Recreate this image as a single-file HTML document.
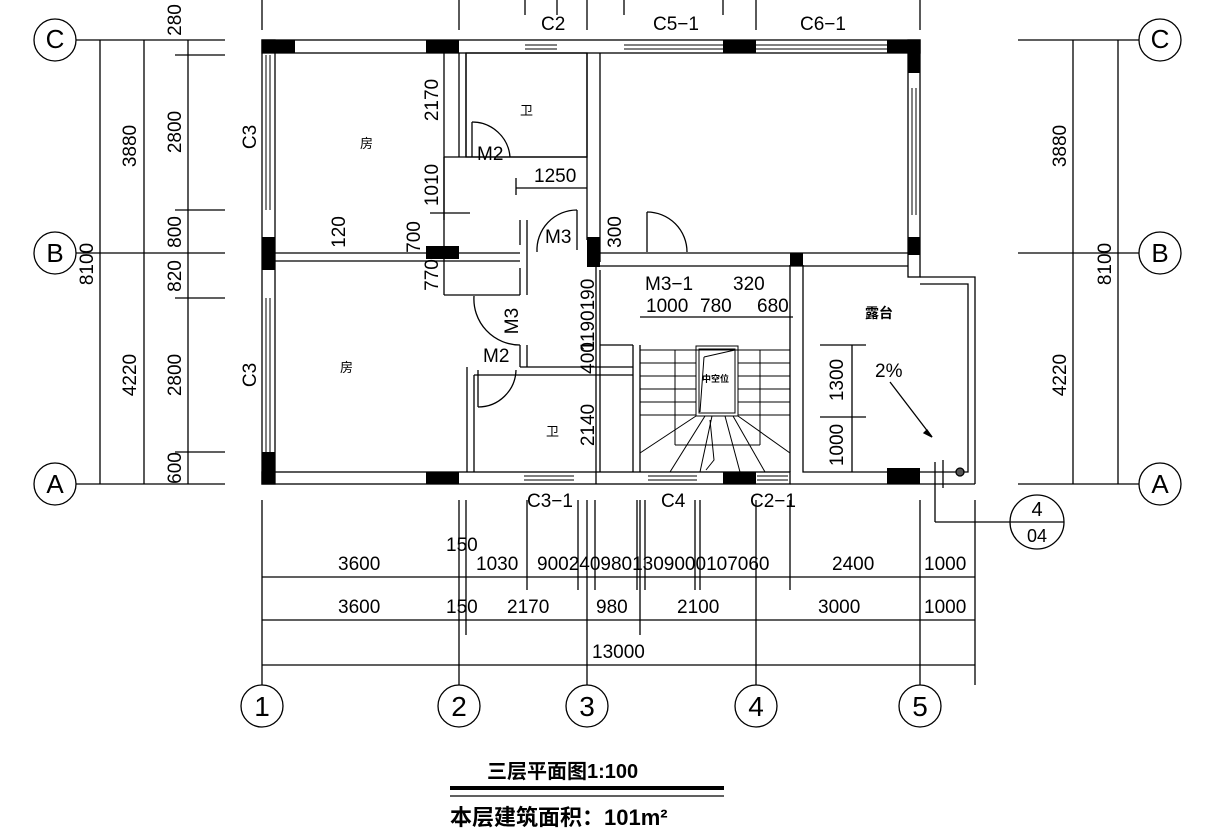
<!DOCTYPE html>
<html><head><meta charset="utf-8"><style>
html,body{margin:0;padding:0;background:#fff;}
svg{display:block;}
text{font-family:"Liberation Sans","Noto Sans CJK SC",sans-serif;fill:#000;}
</style></head><body>
<svg width="1210" height="835" viewBox="0 0 1210 835" xmlns="http://www.w3.org/2000/svg">
<g stroke="#000" stroke-width="1.3" fill="none">
<circle cx="55" cy="40" r="21"/><circle cx="55" cy="253" r="21"/><circle cx="55" cy="484" r="21"/>
<circle cx="1160" cy="40" r="21"/><circle cx="1160" cy="253" r="21"/><circle cx="1160" cy="484" r="21"/>
<line x1="76" y1="40" x2="225" y2="40"/><line x1="76" y1="253" x2="225" y2="253"/><line x1="76" y1="484" x2="225" y2="484"/>
<line x1="1018" y1="40" x2="1139" y2="40"/><line x1="1018" y1="253" x2="1139" y2="253"/><line x1="1018" y1="484" x2="1139" y2="484"/>
<line x1="100" y1="40" x2="100" y2="484"/><line x1="144" y1="40" x2="144" y2="484"/><line x1="188" y1="40" x2="188" y2="484"/>
<line x1="175" y1="55" x2="225" y2="55"/><line x1="175" y1="210" x2="225" y2="210"/><line x1="175" y1="298" x2="225" y2="298"/><line x1="175" y1="452" x2="225" y2="452"/>
<line x1="1073" y1="40" x2="1073" y2="484"/><line x1="1118" y1="40" x2="1118" y2="484"/>
<line x1="262" y1="577" x2="975" y2="577"/><line x1="262" y1="620" x2="975" y2="620"/><line x1="262" y1="665" x2="975" y2="665"/>
<line x1="262" y1="500" x2="262" y2="685"/><line x1="459" y1="500" x2="459" y2="685"/><line x1="466" y1="500" x2="466" y2="635"/>
<line x1="587" y1="500" x2="587" y2="685"/><line x1="640" y1="500" x2="640" y2="635"/><line x1="756" y1="500" x2="756" y2="685"/><line x1="920" y1="500" x2="920" y2="685"/><line x1="975" y1="500" x2="975" y2="685"/>
<line x1="527" y1="500" x2="527" y2="590"/><line x1="578" y1="500" x2="578" y2="590"/><line x1="595" y1="500" x2="595" y2="590"/><line x1="637" y1="500" x2="637" y2="590"/><line x1="645" y1="500" x2="645" y2="590"/><line x1="695" y1="500" x2="695" y2="590"/><line x1="700" y1="500" x2="700" y2="590"/><line x1="790" y1="500" x2="790" y2="590"/>
<circle cx="262" cy="706" r="21"/><circle cx="459" cy="706" r="21"/><circle cx="587" cy="706" r="21"/><circle cx="756" cy="706" r="21"/><circle cx="920" cy="706" r="21"/>
<line x1="262" y1="0" x2="262" y2="30"/><line x1="459" y1="0" x2="459" y2="30"/><line x1="525" y1="0" x2="525" y2="15"/><line x1="557" y1="0" x2="557" y2="15"/><line x1="587" y1="0" x2="587" y2="30"/><line x1="624" y1="0" x2="624" y2="15"/><line x1="723" y1="0" x2="723" y2="15"/><line x1="756" y1="0" x2="756" y2="30"/><line x1="920" y1="0" x2="920" y2="30"/>
<rect x="262" y="40" width="658" height="13"/>
<rect x="262" y="40" width="13" height="444"/>
<rect x="262" y="472" width="528" height="12"/>
<line x1="790" y1="484" x2="975" y2="484"/>
<rect x="908" y="40" width="12" height="237"/>
<polyline points="920,277 975,277 975,484"/><polyline points="920,284 968,284 968,472 803,472 803,265"/>
<line x1="790" y1="265" x2="790" y2="472"/>
<line x1="275" y1="253" x2="520" y2="253"/><line x1="275" y1="261" x2="520" y2="261"/>
<line x1="459" y1="53" x2="459" y2="157"/><line x1="466" y1="53" x2="466" y2="157"/>
<rect x="466" y="53" width="121" height="104"/>
<line x1="587" y1="53" x2="587" y2="240"/><line x1="600" y1="53" x2="600" y2="262"/>
<line x1="444" y1="157" x2="587" y2="157"/>
<line x1="444" y1="157" x2="444" y2="220"/>
<line x1="444" y1="295" x2="520" y2="295"/>
<line x1="520" y1="220" x2="520" y2="245"/><line x1="527" y1="220" x2="527" y2="295"/>
<line x1="520" y1="268" x2="520" y2="295"/>
<line x1="600" y1="253" x2="908" y2="253"/><line x1="600" y1="266" x2="908" y2="266"/>
<line x1="520" y1="367" x2="633" y2="367"/><line x1="520" y1="345" x2="520" y2="367"/><line x1="527" y1="345" x2="527" y2="367"/>
<line x1="467" y1="367" x2="467" y2="472"/><line x1="474" y1="375" x2="474" y2="472"/><line x1="474" y1="375" x2="633" y2="375"/>
<line x1="633" y1="345" x2="633" y2="472"/><line x1="640" y1="345" x2="640" y2="472"/>
<line x1="600" y1="345" x2="633" y2="345"/>
<line x1="596" y1="240" x2="596" y2="484"/>
<g stroke-width="1">
<line x1="266" y1="55" x2="266" y2="210"/><line x1="270" y1="55" x2="270" y2="210"/>
<line x1="266" y1="298" x2="266" y2="452"/><line x1="270" y1="298" x2="270" y2="452"/>
<line x1="525" y1="45" x2="557" y2="45"/><line x1="525" y1="49" x2="557" y2="49"/>
<line x1="624" y1="45" x2="723" y2="45"/><line x1="624" y1="49" x2="723" y2="49"/>
<line x1="756" y1="45" x2="887" y2="45"/><line x1="756" y1="49" x2="887" y2="49"/>
<line x1="912" y1="88" x2="912" y2="215"/><line x1="916" y1="88" x2="916" y2="215"/>
<line x1="524" y1="476" x2="574" y2="476"/><line x1="524" y1="480" x2="574" y2="480"/>
<line x1="648" y1="476" x2="697" y2="476"/><line x1="648" y1="480" x2="697" y2="480"/>
<line x1="757" y1="476" x2="788" y2="476"/><line x1="757" y1="480" x2="788" y2="480"/>
</g>
<path d="M472 122 A38 38 0 0 1 510 157"/><line x1="472" y1="122" x2="472" y2="157"/>
<path d="M577 210 A40 40 0 0 0 537 252"/><line x1="577" y1="210" x2="577" y2="250"/>
<path d="M647 212 A40 40 0 0 1 687 252"/><line x1="647" y1="212" x2="647" y2="252"/>
<path d="M474 296 A46 46 0 0 0 520 345"/>
<path d="M478 407 A38 38 0 0 0 516 370"/><line x1="478" y1="370" x2="478" y2="407"/>
<g stroke-width="1">
<line x1="640" y1="350" x2="790" y2="350"/>
<line x1="640" y1="363" x2="696" y2="363"/><line x1="640" y1="376" x2="696" y2="376"/><line x1="640" y1="389" x2="696" y2="389"/><line x1="640" y1="402" x2="696" y2="402"/><line x1="640" y1="415" x2="696" y2="415"/>
<line x1="738" y1="363" x2="790" y2="363"/><line x1="738" y1="376" x2="790" y2="376"/><line x1="738" y1="389" x2="790" y2="389"/><line x1="738" y1="402" x2="790" y2="402"/><line x1="738" y1="415" x2="790" y2="415"/>
<line x1="675" y1="350" x2="675" y2="445"/><line x1="760" y1="350" x2="760" y2="445"/><line x1="675" y1="445" x2="760" y2="445"/>
<rect x="696" y="346" width="42" height="70"/><rect x="699" y="349" width="36" height="64"/>
<path d="M704 357 L735 350 M704 357 L700 412"/>
<line x1="696" y1="416" x2="640" y2="453"/><line x1="705" y1="416" x2="670" y2="472"/><line x1="712" y1="416" x2="700" y2="472"/>
<line x1="738" y1="416" x2="790" y2="453"/><line x1="733" y1="416" x2="765" y2="472"/><line x1="725" y1="416" x2="740" y2="472"/>
<path d="M710 420 L714 460 L706 470"/>
</g>
<line x1="890" y1="382" x2="932" y2="437"/><path d="M932 437 l-8 -4 l3 -3 z" fill="#000"/>
<line x1="820" y1="345" x2="866" y2="345"/><line x1="820" y1="417" x2="866" y2="417"/><line x1="852" y1="345" x2="852" y2="472"/>
<line x1="935" y1="462" x2="935" y2="522"/><line x1="943" y1="460" x2="943" y2="488"/><line x1="935" y1="522" x2="1010" y2="522"/>
<circle cx="1037" cy="522" r="27"/><line x1="1010" y1="522" x2="1064" y2="522"/>
<circle cx="960" cy="472" r="4" fill="#555"/>
<line x1="444" y1="53" x2="444" y2="295"/>
<line x1="516" y1="188" x2="587" y2="188"/><line x1="516" y1="178" x2="516" y2="195"/>
<line x1="600" y1="270" x2="600" y2="472"/>
<line x1="640" y1="317" x2="793" y2="317"/>
<line x1="430" y1="213" x2="470" y2="213"/>
<line x1="450" y1="788" x2="724" y2="788" stroke-width="4"/><line x1="450" y1="796" x2="724" y2="796" stroke-width="1.3"/>
</g>
<g fill="#000">
<rect x="262" y="40" width="33" height="13"/><rect x="426" y="40" width="33" height="13"/><rect x="723" y="40" width="33" height="13"/><rect x="887" y="40" width="33" height="13"/><rect x="908" y="40" width="12" height="33"/>
<rect x="262" y="237" width="13" height="33"/><rect x="426" y="246" width="33" height="13"/><rect x="587" y="237" width="13" height="30"/><rect x="790" y="253" width="13" height="13"/><rect x="908" y="237" width="12" height="18"/>
<rect x="262" y="452" width="13" height="32"/><rect x="426" y="472" width="33" height="12"/><rect x="723" y="472" width="33" height="12"/><rect x="887" y="468" width="33" height="16"/>
</g>
<g font-size="19">
<text x="55" y="48" text-anchor="middle" font-family="Liberation Serif" font-size="26">C</text>
<text x="55" y="262" text-anchor="middle" font-family="Liberation Serif" font-size="26">B</text>
<text x="55" y="493" text-anchor="middle" font-family="Liberation Serif" font-size="26">A</text>
<text x="1160" y="48" text-anchor="middle" font-family="Liberation Serif" font-size="26">C</text>
<text x="1160" y="262" text-anchor="middle" font-family="Liberation Serif" font-size="26">B</text>
<text x="1160" y="493" text-anchor="middle" font-family="Liberation Serif" font-size="26">A</text>
<text x="262" y="716" text-anchor="middle" font-family="Liberation Serif" font-size="28">1</text>
<text x="459" y="716" text-anchor="middle" font-family="Liberation Serif" font-size="28">2</text>
<text x="587" y="716" text-anchor="middle" font-family="Liberation Serif" font-size="28">3</text>
<text x="756" y="716" text-anchor="middle" font-family="Liberation Serif" font-size="28">4</text>
<text x="920" y="716" text-anchor="middle" font-family="Liberation Serif" font-size="28">5</text>
<text transform="translate(136,146) rotate(-90)" text-anchor="middle">3880</text>
<text transform="translate(93,264) rotate(-90)" text-anchor="middle">8100</text>
<text transform="translate(136,375) rotate(-90)" text-anchor="middle">4220</text>
<text transform="translate(181,20) rotate(-90)" text-anchor="middle">280</text>
<text transform="translate(181,132) rotate(-90)" text-anchor="middle">2800</text>
<text transform="translate(181,232) rotate(-90)" text-anchor="middle">800</text>
<text transform="translate(181,276) rotate(-90)" text-anchor="middle">820</text>
<text transform="translate(181,375) rotate(-90)" text-anchor="middle">2800</text>
<text transform="translate(181,468) rotate(-90)" text-anchor="middle">600</text>
<text transform="translate(1066,146) rotate(-90)" text-anchor="middle">3880</text>
<text transform="translate(1111,264) rotate(-90)" text-anchor="middle">8100</text>
<text transform="translate(1066,375) rotate(-90)" text-anchor="middle">4220</text>
<text transform="translate(256,137) rotate(-90)" text-anchor="middle">C3</text>
<text transform="translate(256,375) rotate(-90)" text-anchor="middle">C3</text>
<text transform="translate(438,100) rotate(-90)" text-anchor="middle">2170</text>
<text transform="translate(438,185) rotate(-90)" text-anchor="middle">1010</text>
<text transform="translate(420,237) rotate(-90)" text-anchor="middle">700</text>
<text transform="translate(438,275) rotate(-90)" text-anchor="middle">770</text>
<text transform="translate(345,232) rotate(-90)" text-anchor="middle">120</text>
<text transform="translate(621,232) rotate(-90)" text-anchor="middle">300</text>
<text transform="translate(594,315) rotate(-90)" text-anchor="middle">1190190</text>
<text transform="translate(594,358) rotate(-90)" text-anchor="middle">400</text>
<text transform="translate(594,425) rotate(-90)" text-anchor="middle">2140</text>
<text transform="translate(843,380) rotate(-90)" text-anchor="middle">1300</text>
<text transform="translate(843,445) rotate(-90)" text-anchor="middle">1000</text>
<text transform="translate(518,321) rotate(-90)" text-anchor="middle">M3</text>
<text x="541" y="30">C2</text><text x="653" y="30">C5−1</text><text x="800" y="30">C6−1</text>
<text x="534" y="182">1250</text>
<text x="545" y="243">M3</text>
<text x="477" y="160">M2</text><text x="483" y="362">M2</text>
<text x="645" y="290">M3−1</text><text x="733" y="290">320</text>
<text x="646" y="312">1000</text><text x="700" y="312">780</text><text x="757" y="312">680</text>
<text x="875" y="377">2%</text>
<text x="527" y="507">C3−1</text><text x="661" y="507">C4</text><text x="750" y="507">C2−1</text>
<text x="338" y="570">3600</text><text x="446" y="551">150</text><text x="476" y="570">1030</text><text x="537" y="570">9002409801309000107060</text>
<text x="832" y="570">2400</text><text x="924" y="570">1000</text>
<text x="338" y="613">3600</text><text x="446" y="613">150</text><text x="507" y="613">2170</text><text x="596" y="613">980</text><text x="677" y="613">2100</text><text x="818" y="613">3000</text><text x="924" y="613">1000</text>
<text x="592" y="658">13000</text>
<text x="1037" y="516" text-anchor="middle" font-size="20">4</text>
<text x="1037" y="542" text-anchor="middle" font-size="18">04</text>
</g>
<g>
<text x="360" y="148" font-size="13">房</text>
<text x="340" y="372" font-size="13">房</text>
<text x="520" y="115" font-size="13">卫</text>
<text x="546" y="436" font-size="13">卫</text>
<text x="865" y="318" font-size="14" font-weight="bold">露台</text>
<text x="702" y="382" font-size="9" font-weight="bold">中空位</text>
<text x="487" y="778" font-size="20" font-weight="bold">三层平面图1:100</text>
<text x="450" y="825" font-size="22" font-weight="bold">本层建筑面积：101m²</text>
</g>
</svg>
</body></html>
